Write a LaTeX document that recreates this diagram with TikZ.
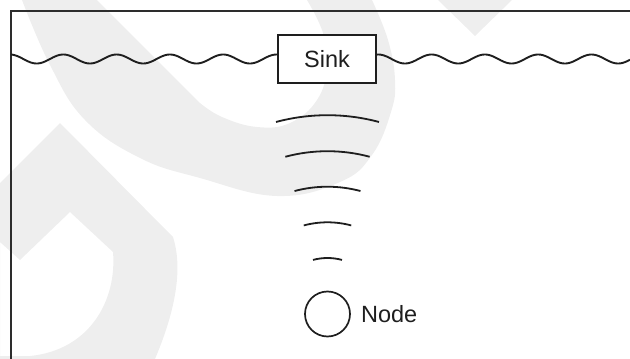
\documentclass[tikz,border=0pt]{standalone}
\usepackage{fontspec}
\setmainfont{Liberation Sans}
\definecolor{wm}{RGB}{238,238,238}
\definecolor{ink}{RGB}{30,30,30}
\definecolor{framecol}{RGB}{45,45,45}
\begin{document}
\begin{tikzpicture}[x=1pt, y=-1pt,
  framestyle/.style={draw=framecol, line width=2pt},
  wavestyle/.style={draw=ink, line width=1.9pt},
  sinkbox/.style={draw=ink, line width=1.8pt, fill=white, minimum width=98pt,
    minimum height=48pt, inner sep=0pt, text=ink,
    font=\fontsize{23.5pt}{28pt}\selectfont},
  sensor/.style={circle, draw=ink, line width=1.7pt, minimum size=45pt, inner sep=0pt},
  caption/.style={anchor=west, inner sep=0pt, text=ink,
    font=\fontsize{23.5pt}{28pt}\selectfont},
  signal/.style={draw=ink, line width=1.8pt}]
\useasboundingbox (0,0) rectangle (630,359);

% light background emblem
\fill[wm] plot[smooth, tension=0.7] coordinates {(22,0) (50,65) (85,120) (140,158)
    (200,178) (277,196) (340,182) (372,155) (391,112) (395,80) (388,40) (372,0)}
  -- (307,0)
  -- plot[smooth, tension=0.7] coordinates {(307,0) (323,33) (327,67) (317,100)
    (290,123) (257,127) (222,117) (200,103)}
  -- (97,0) -- cycle;
\fill[wm, even odd rule] (0,183) -- (60,123) -- (173,237)
    .. controls (181,262) and (180,300) .. (155,359) -- (0,359) -- cycle
  (0,242) -- (20,260) -- (70,212) -- (113,252)
    .. controls (117,300) and (90,350) .. (30,356) -- (0,356) -- cycle;
\fill[wm] (438,0) -- (512,0) -- (475,36) -- cycle;

% frame
\coordinate (fb) at (11,359);
\coordinate (fr) at (630,11);
\draw[framestyle] (fb) |- (fr);

% sink on the surface (wave period 53.3, i.e. 6.7542 degrees per unit)
\node[sinkbox] (sink) at (327,59) {Sink};
\draw[wavestyle] plot[domain=11:278, samples=160] (\x, {59-4.5*cos(6.7542*(\x-10))});
\draw[wavestyle] plot[domain=376:630, samples=160] (\x, {59-4.5*cos(6.7542*(\x-378.3))});

% node and its signal
\node[sensor] (n) at (327.5,314) {};
\node[caption] (nlabel) at ([xshift=10pt]n.east) {Node};
\foreach \r in {56,91.7,127.3,162.8,198.8}
  \draw[signal] ([shift={(255:\r)}]n.center) arc[start angle=255, end angle=285, radius=\r];
\end{tikzpicture}
\end{document}
